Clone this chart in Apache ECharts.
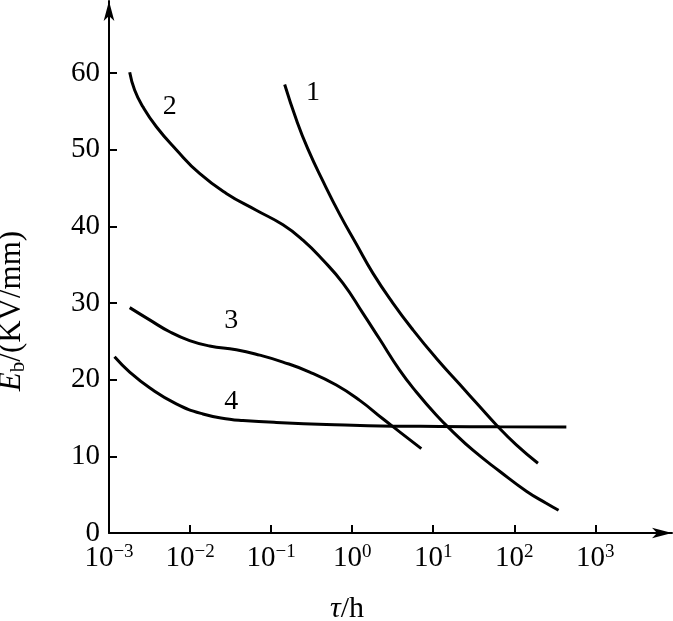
<!DOCTYPE html>
<html>
<head>
<meta charset="utf-8">
<script src="https://cdn.jsdelivr.net/npm/echarts@6/dist/echarts.min.js"></script>
<style>
html,body{margin:0;padding:0;background:#fff;}
#chart{width:673px;height:621px;}
</style>
</head>
<body>
<div id="chart"></div>
<script>
// tick values
const xTicks = [0.001, 0.01, 0.1, 1, 10, 100, 1000];
const yTicks = [0, 10, 20, 30, 40, 50, 60];

// curve 1: [tau (h), Eb (kV/mm)]
const curve1 = [
  [0.147, 58.5], [0.205, 53.9], [0.284, 50.1], [0.436, 45.9], [0.700, 41.6],
  [1.125, 37.7], [1.80, 33.9], [3.18, 30.0], [5.62, 26.5], [10.9, 22.8],
  [21.2, 19.4], [37.4, 16.5], [60.1, 14.1], [106, 11.5], [196, 9.1]
];
// curve 2
const curve2 = [
  [0.00180, 60.1], [0.00207, 57.8], [0.00262, 55.6], [0.00384, 53.0], [0.00676, 50.0],
  [0.0131, 46.9], [0.0280, 44.3], [0.0656, 42.1], [0.140, 40.2], [0.247, 38.2],
  [0.436, 35.6], [0.769, 32.6], [1.36, 28.65], [2.18, 25.3], [3.85, 21.25],
  [6.19, 18.4], [10.9, 15.4], [17.5, 13.2], [30.9, 10.8], [65.9, 8.06],
  [141, 5.45], [248, 3.88], [352, 2.96]
];
// curve 3
const curve3 = [
  [0.00180, 29.4], [0.00317, 27.8], [0.00560, 26.25], [0.00987, 25.1], [0.0174, 24.4],
  [0.0372, 23.9], [0.0722, 23.2], [0.140, 22.3], [0.299, 21.0], [0.637, 19.3],
  [1.24, 17.3], [2.39, 14.9], [3.85, 13.2], [7.13, 11.0]
];
// curve 4
const curve4 = [
  [0.00117, 23.0], [0.00180, 21.0], [0.00317, 18.94], [0.00676, 16.85], [0.0144, 15.53],
  [0.0308, 14.84], [0.0449, 14.67], [0.116, 14.42], [0.480, 14.16], [3.18, 13.94],
  [12.0, 13.9], [65.9, 13.85], [439, 13.84]
];
// curve number labels: [tau, Eb, text]
const curveLabels = [
  [0.328, 57.4, '1'],
  [0.0056, 55.6, '2'],
  [0.0323, 27.7, '3'],
  [0.0323, 17.1, '4']
];

const serif = '"Liberation Serif", "DejaVu Serif", serif';
const chart = echarts.init(document.getElementById('chart'), null, {renderer: 'canvas'});

function lineSeries(data) {
  return {
    type: 'line', data: data, smooth: 0.5, symbol: 'none',
    lineStyle: {color: '#000', width: 3}, silent: true, animation: false
  };
}

chart.setOption({
  animation: false,
  backgroundColor: '#fff',
  grid: {left: 109, right: 1, top: 1, bottom: 88, containLabel: false},
  xAxis: {
    type: 'log', logBase: 10, min: 0.001, max: 8830,
    axisLine: {show: true, lineStyle: {color: '#000', width: 2}, symbol: ['none', 'arrow'], symbolSize: [8, 20]},
    axisTick: {show: true, inside: true, length: 8, lineStyle: {color: '#000', width: 2}, customValues: xTicks},
    axisLabel: {
      show: true, margin: 10, customValues: xTicks,
      formatter: function (v) {
        const e = Math.round(Math.log10(v));
        return '{b|10}{s|' + String(e).replace('-', '−') + '}';
      },
      rich: {
        b: {fontFamily: serif, fontSize: 29, color: '#000', lineHeight: 30, verticalAlign: 'bottom'},
        s: {fontFamily: serif, fontSize: 19, color: '#000', lineHeight: 30, verticalAlign: 'top', padding: [0, 0, 12, 0]}
      }
    },
    splitLine: {show: false}, minorTick: {show: false}
  },
  yAxis: {
    type: 'value', min: 0, max: 69.4,
    axisLine: {show: true, lineStyle: {color: '#000', width: 2}, symbol: ['none', 'arrow'], symbolSize: [8, 20]},
    axisTick: {show: true, inside: true, length: 8, lineStyle: {color: '#000', width: 2}, customValues: yTicks},
    axisLabel: {show: true, margin: 9, customValues: yTicks, fontFamily: serif, fontSize: 29, color: '#000'},
    splitLine: {show: false}
  },
  graphic: [
    {
      type: 'text', x: 12, y: 311, rotation: Math.PI / 2,
      style: {
        text: '{i|E}{sub|b}{n|/(KV/mm)}',
        align: 'center', verticalAlign: 'middle',
        rich: {
          i: {fontFamily: serif, fontStyle: 'italic', fontSize: 31, fill: '#000', lineHeight: 34},
          sub: {fontFamily: serif, fontSize: 21, fill: '#000', lineHeight: 34, verticalAlign: 'bottom'},
          n: {fontFamily: serif, fontSize: 31, fill: '#000', lineHeight: 34}
        }
      }
    },
    {
      type: 'text', x: 347, y: 609,
      style: {
        text: '{i|τ}{n|/h}',
        align: 'center', verticalAlign: 'middle',
        rich: {
          i: {fontFamily: serif, fontStyle: 'italic', fontSize: 30, fill: '#000'},
          n: {fontFamily: serif, fontSize: 30, fill: '#000'}
        }
      }
    }
  ],
  series: [
    lineSeries(curve1), lineSeries(curve2), lineSeries(curve3), lineSeries(curve4),
    {
      type: 'scatter', symbolSize: 1, silent: true,
      itemStyle: {opacity: 1, color: 'rgba(0,0,0,0)'},
      data: curveLabels.map(function (d) { return {value: [d[0], d[1]], name: d[2]}; }),
      label: {show: true, position: 'inside', formatter: '{b}', fontFamily: serif, fontSize: 28, color: '#000', opacity: 1}
    }
  ]
});
</script>
</body>
</html>
